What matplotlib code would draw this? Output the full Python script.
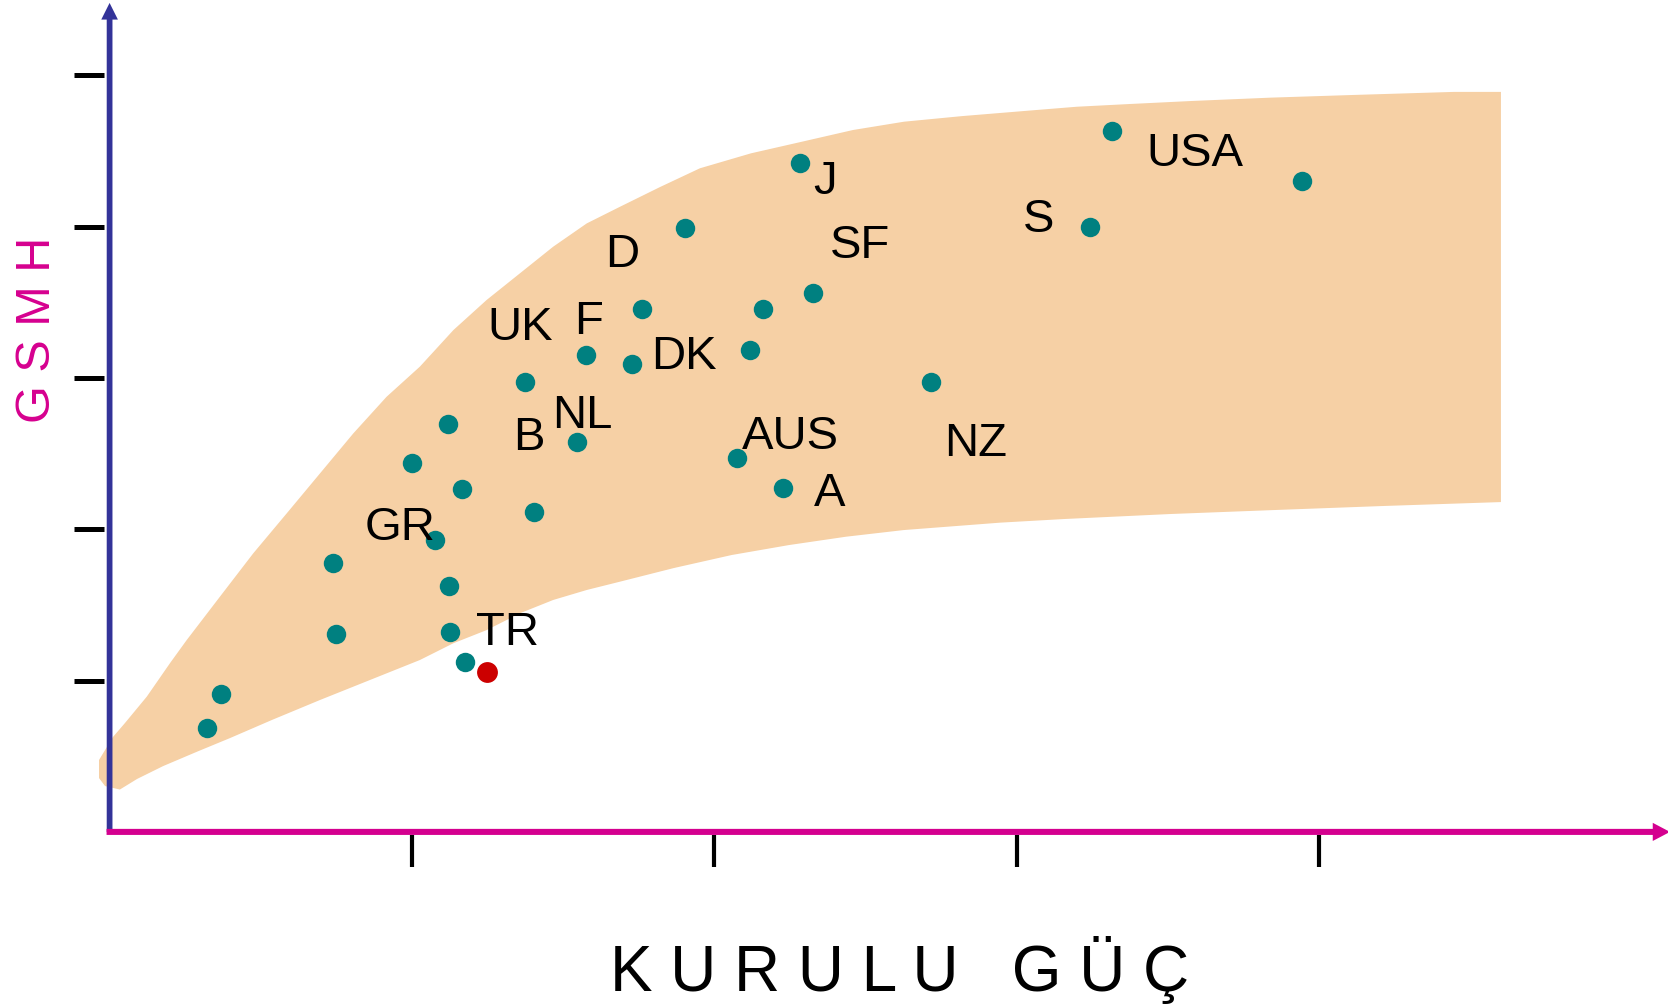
import matplotlib
matplotlib.use("Agg")
import matplotlib.pyplot as plt

plt.rcParams['font.family'] = ['Liberation Sans', 'DejaVu Sans']

# country points (x = installed power, y = GNP), in tick units
pts_x = [0.323, 0.369, 0.739, 0.749, 0.999, 1.119, 1.164, 1.076, 1.122, 1.126, 1.175,
         1.375, 1.403, 1.544, 1.576, 1.727, 1.762, 1.903, 2.075, 2.118, 2.160, 2.227,
         2.283, 2.325, 2.716, 3.243, 3.314, 3.943]
pts_y = [0.689, 0.914, 1.779, 1.308, 2.440, 2.693, 2.264, 1.927, 1.624, 1.322, 1.125,
         2.974, 2.116, 2.580, 3.150, 3.094, 3.459, 3.993, 2.468, 3.185, 3.459, 2.271,
         4.422, 3.565, 2.974, 4.001, 4.634, 4.303]

# Turkey, highlighted
tr_x = [1.249]
tr_y = [1.055]

# labels (baseline positions)
labels = ['USA', 'J', 'S', 'SF', 'D', 'UK', 'F', 'DK', 'NL', 'B', 'AUS', 'NZ', 'A', 'GR', 'TR']
label_x = [3.588, 2.367, 3.071, 2.483, 1.695, 1.358, 1.583, 1.899, 1.562, 1.386, 2.251,
           2.863, 2.382, 0.960, 1.315]
label_y = [4.401, 4.219, 3.966, 3.790, 3.734, 3.248, 3.291, 3.059, 2.672, 2.524, 2.531,
           2.482, 2.151, 1.927, 1.237]

# band edges
upper_x = [-0.015, 0.011, 0.051, 0.123, 0.200, 0.255, 0.365, 0.475, 0.586, 0.696, 0.806,
           0.916, 1.026, 1.137, 1.247, 1.357, 1.467, 1.578, 1.688, 1.820, 1.952, 2.121,
           2.290, 2.458, 2.627, 2.819, 3.063, 3.199, 3.374, 3.579, 3.839, 4.117, 4.446,
           4.601]
upper_y = [0.541, 0.627, 0.720, 0.894, 1.116, 1.268, 1.555, 1.841, 2.106, 2.370, 2.634,
           2.876, 3.075, 3.317, 3.516, 3.692, 3.868, 4.022, 4.132, 4.262, 4.386, 4.485,
           4.562, 4.639, 4.694, 4.731, 4.771, 4.793, 4.811, 4.831, 4.853, 4.871, 4.891,
           4.891]
lower_x = [4.601, 4.211, 3.860, 3.507, 3.157, 2.945, 2.626, 2.435, 2.247, 2.057, 1.866,
           1.688, 1.578, 1.467, 1.357, 1.247, 1.137, 1.026, 0.916, 0.806, 0.696, 0.537,
           0.398, 0.289, 0.177, 0.091, 0.034, -0.015, -0.035, -0.035]
lower_y = [2.180, 2.154, 2.128, 2.101, 2.068, 2.044, 1.995, 1.951, 1.896, 1.830, 1.744,
           1.654, 1.599, 1.533, 1.445, 1.334, 1.247, 1.136, 1.048, 0.960, 0.872, 0.740,
           0.620, 0.530, 0.435, 0.350, 0.280, 0.303, 0.356, 0.475]

x_ticks = [1, 2, 3, 4]
y_ticks = [1, 2, 3, 4, 5]

band_color = '#F6D0A5'
dot_color = '#008080'
tr_color = '#CC0000'
yaxis_color = '#333399'
xaxis_color = '#D4008F'

fig = plt.figure(figsize=(16.68, 10.07), dpi=100)
ax = fig.add_axes([0, 0, 1, 1])
ax.set_xlim(-0.3624, 5.1534)
ax.set_ylim(-1.1573, 5.4984)
ax.axis('off')

# band
ax.fill(upper_x + lower_x, upper_y + lower_y, color=band_color, lw=0, zorder=1)

# axes with arrow heads
ax.arrow(0, 0, 0, 5.479, width=0.019, head_width=0.055, head_length=0.11,
         length_includes_head=True, color=yaxis_color, lw=0, zorder=3)
ax.arrow(-0.01, 0, 5.17, 0, width=0.04, head_width=0.12, head_length=0.057,
         length_includes_head=True, color=xaxis_color, lw=0, zorder=3)

# tick marks
ax.hlines(y_ticks, -0.118, -0.018, color='black', lw=3.6, zorder=3)
ax.vlines(x_ticks, -0.232, -0.02, color='black', lw=3.0, zorder=3)

# points
ax.plot(pts_x, pts_y, 'o', color=dot_color, ms=14, mew=0, zorder=4)
ax.plot(tr_x, tr_y, 'o', color=tr_color, ms=15, mew=0, zorder=4)

for lab, lx, ly in zip(labels, label_x, label_y):
    ax.text(lx, ly, lab, fontsize=34, ha='center', va='baseline', color='black', zorder=5)

# axis titles
ax.text(2.612, -1.051, 'K U R U L U   G Ü Ç', fontsize=46, ha='center', va='baseline')
ax.text(-0.237, 3.317, 'G S M H', fontsize=35, rotation=90, ha='center', va='center',
        color='#D6008F')

plt.savefig('out.png', dpi=100)
